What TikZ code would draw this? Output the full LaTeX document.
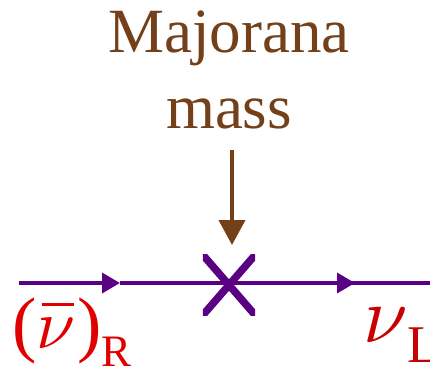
\documentclass[tikz,border=0pt]{standalone}
\usepackage{fontspec}
\setmainfont{Liberation Serif}
\usetikzlibrary{arrows.meta,calc}
\definecolor{mbrown}{RGB}{116,64,26}
\definecolor{mpurple}{RGB}{90,0,130}
\definecolor{mred}{RGB}{224,0,0}
\definecolor{mdred}{RGB}{200,0,0}
\newcommand\bignu[1]{\scalebox{#1}{\fontsize{10}{12}\selectfont$\nu$}}
\newcommand\nubarx{\rlap{\hspace{5pt}\rule[42pt]{32pt}{3.5pt}}\bignu{7}\hspace{2pt}}
\begin{document}
\begin{tikzpicture}[x=1pt,y=1pt,
  fline/.style={draw=mpurple,line width=3.5pt},
  ftip/.style={-{Triangle[length=18pt,width=20pt]}},
  lbl/.style={inner sep=0,anchor=base west}]
\useasboundingbox (0,0) rectangle (430,-369);
% label
\node[text=mbrown, font=\fontsize{63}{76}\selectfont, align=center, anchor=base, inner sep=0] (mm) at (229,-128) {Majorana\\mass};
% vertex
\node[minimum width=52pt, minimum height=60pt, inner sep=0] (x) at (229,-285) {};
\begin{scope}
  \clip (x.south west) rectangle (x.north east);
  \draw[mpurple, line width=7.5pt] ($(x.south west)!-0.2!(x.north east)$) -- ($(x.north east)!-0.2!(x.south west)$);
  \draw[mpurple, line width=7.5pt] ($(x.north west)!-0.2!(x.south east)$) -- ($(x.south east)!-0.2!(x.north west)$);
\end{scope}
% line
\coordinate (L) at (19,-283);
\coordinate (a1) at (120,-283);
\coordinate (a2) at (355,-283);
\coordinate (R) at (430,-283);
\draw[fline, ftip] (L) -- (a1);
\draw[fline] (a1) -- (a2 -| x.center) -- (R);
\draw[fline, ftip] (a1) -- (a2);
% arrow
\coordinate (atop) at (232,-150);
\coordinate (abot) at (232,-245);
\draw[mbrown, line width=4pt, -{Triangle[length=25pt,width=26pt]}] (atop) -- (abot);
% labels
\node[lbl, text=mred, font=\fontsize{73}{76}\selectfont] (nr) at (12,-348) {(\nubarx)\raisebox{-18pt}{\fontsize{45}{50}\selectfont R}};
\node[lbl, text=mdred, font=\fontsize{68}{76}\selectfont] (nl) at (363,-342) {\bignu{8}\raisebox{-20pt}{\fontsize{53}{60}\selectfont L}};
\end{tikzpicture}
\end{document}
